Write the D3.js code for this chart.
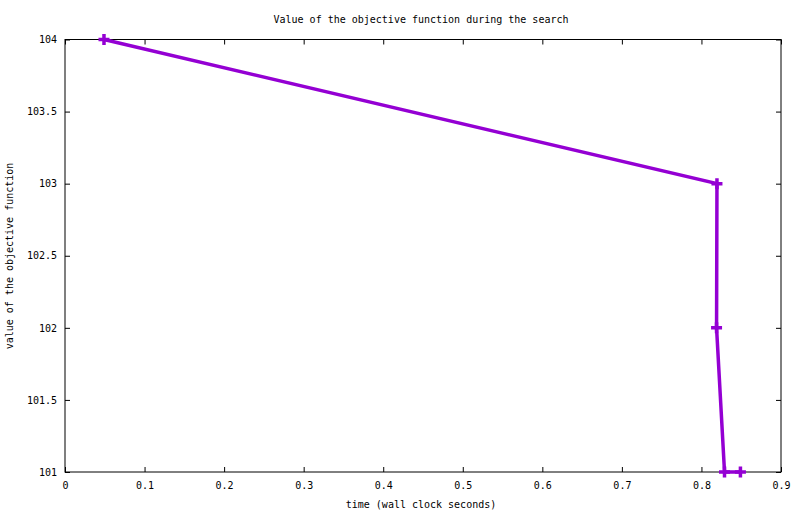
<!DOCTYPE html>
<html>
<head>
<meta charset="utf-8">
<script src="https://cdn.jsdelivr.net/npm/d3@7"></script>
<style>
body { margin: 0; background: #fff; }
text { font-family: "DejaVu Sans Mono", "Liberation Mono", monospace; font-size: 10px; fill: #000; }
</style>
</head>
<body>
<div id="chart"></div>
<script>
const times = [0.049, 0.8195, 0.819, 0.829, 0.849]
const values = [104, 103, 102, 101, 101]
const xTicks = [0, 0.1, 0.2, 0.3, 0.4, 0.5, 0.6, 0.7, 0.8, 0.9]
const yTicks = [101, 101.5, 102, 102.5, 103, 103.5, 104]

const margin = { top: 39.5, bottom: 42, right: 19, left: 65 }
const W = 800, H = 514
const width = W - margin.left - margin.right
const height = H - margin.top - margin.bottom
const color = '#9400d3'

const svg = d3.select('#chart').append('svg')
    .attr('width', W)
    .attr('height', H)

const g = svg.append('g')
    .attr('transform', `translate(${margin.left}, ${margin.top})`)

const x = d3.scaleLinear().domain([0, 0.9]).range([0, width])
const y = d3.scaleLinear().domain([101, 104]).range([height, 0])

const tickLen = 5

// bottom and top axes (mirror ticks)
g.append('g')
    .attr('transform', `translate(0, ${height})`)
    .call(d3.axisBottom(x).tickValues(xTicks).tickSizeInner(-tickLen).tickSizeOuter(0).tickPadding(10).tickFormat(d3.format('')))
g.append('g')
    .call(d3.axisTop(x).tickValues(xTicks).tickSizeInner(-tickLen).tickSizeOuter(0).tickFormat(''))
g.append('g')
    .call(d3.axisLeft(y).tickValues(yTicks).tickSizeInner(-tickLen).tickSizeOuter(0).tickPadding(8).tickFormat(d3.format('')))
g.append('g')
    .attr('transform', `translate(${width}, 0)`)
    .call(d3.axisRight(y).tickValues(yTicks).tickSizeInner(-tickLen).tickSizeOuter(0).tickFormat(''))

g.selectAll('.domain').remove()
g.selectAll('.tick line').attr('stroke', '#000')
g.selectAll('.tick text').attr('font-family', null).attr('font-size', null)

g.append('rect')
    .attr('width', width)
    .attr('height', height)
    .attr('fill', 'none')
    .attr('stroke', '#000')
    .attr('stroke-width', 1)

const pts = times.map((t, i) => [t, values[i]])

g.append('path')
    .datum(pts)
    .attr('fill', 'none')
    .attr('stroke', color)
    .attr('stroke-width', 3.5)
    .attr('stroke-linejoin', 'miter')
    .attr('d', d3.line().x(d => x(d[0])).y(d => y(d[1])))

const s = 5.5
g.selectAll('.pt').data(pts)
    .enter()
        .append('path')
            .attr('class', 'pt')
            .attr('fill', 'none')
            .attr('stroke', color)
            .attr('stroke-width', 3.5)
            .attr('d', d => {
                const cx = x(d[0]), cy = y(d[1])
                return `M${cx - s},${cy}H${cx + s}M${cx},${cy - s}V${cy + s}`
            })

svg.append('text')
    .attr('x', 421)
    .attr('y', 23)
    .attr('text-anchor', 'middle')
    .text('Value of the objective function during the search')

svg.append('text')
    .attr('x', 421)
    .attr('y', 508)
    .attr('text-anchor', 'middle')
    .text('time (wall clock seconds)')

svg.append('text')
    .attr('transform', 'translate(13, 256) rotate(-90)')
    .attr('text-anchor', 'middle')
    .text('value of the objective function')
</script>
</body>
</html>
